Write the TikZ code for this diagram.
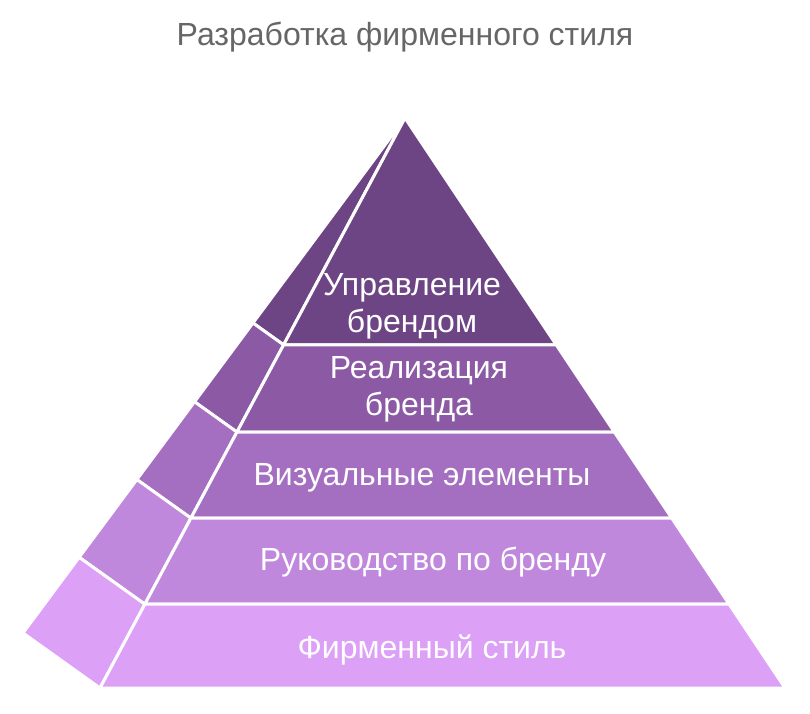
\documentclass[tikz,border=0pt]{standalone}
\usepackage{fontspec}
\setmainfont{Liberation Sans}
\usetikzlibrary{calc}
\definecolor{cA}{HTML}{6E4584}
\definecolor{cB}{HTML}{8C5AA5}
\definecolor{cC}{HTML}{A56FC1}
\definecolor{cD}{HTML}{C088DC}
\definecolor{cE}{HTML}{DCA0F7}
\definecolor{titlegray}{HTML}{666666}
\tikzset{
  band/.style={draw=white, line width=3pt, line join=round},
  lbl/.style={text=white, font=\fontsize{32}{37}\selectfont, align=center, anchor=base},
}
\begin{document}
\begin{tikzpicture}[x=1pt,y=-1pt]
\useasboundingbox (0,0) rectangle (810,713);
\coordinate (A) at (405,118);
\coordinate (FL) at (100,688);
\coordinate (FR) at (785,688);
\coordinate (SL) at (23,633);
\foreach \t [count=\i] in {0,0.398,0.551,0.702,0.853,1}{
  \coordinate (L\i) at ($(A)!\t!(FL)$);
  \coordinate (R\i) at ($(A)!\t!(FR)$);
  \coordinate (S\i) at ($(A)!\t!(SL)$);
}
% side faces
\fill[cA,band] (S1) -- (L1) -- (L2) -- (S2) -- cycle;
\fill[cB,band] (S2) -- (L2) -- (L3) -- (S3) -- cycle;
\fill[cC,band] (S3) -- (L3) -- (L4) -- (S4) -- cycle;
\fill[cD,band] (S4) -- (L4) -- (L5) -- (S5) -- cycle;
\fill[cE,band] (S5) -- (L5) -- (L6) -- (S6) -- cycle;
% front faces
\fill[cA,band] (L1) -- (R1) -- (R2) -- (L2) -- cycle;
\fill[cB,band] (L2) -- (R2) -- (R3) -- (L3) -- cycle;
\fill[cC,band] (L3) -- (R3) -- (R4) -- (L4) -- cycle;
\fill[cD,band] (L4) -- (R4) -- (R5) -- (L5) -- cycle;
\fill[cE,band] (L5) -- (R5) -- (R6) -- (L6) -- cycle;
% labels
\node[lbl] (t1) at (412,332) {Управление\\брендом};
\node[lbl] (t2) at (419,415) {Реализация\\бренда};
\node[lbl] (t3) at (422,485) {Визуальные элементы};
\node[lbl] (t4) at (433,570) {Руководство по бренду};
\node[lbl] (t5) at (432,658) {Фирменный стиль};
\node[text=titlegray, font=\fontsize{32}{38}\selectfont, anchor=base] (title) at (405,45) {Разработка фирменного стиля};
\end{tikzpicture}
\end{document}
